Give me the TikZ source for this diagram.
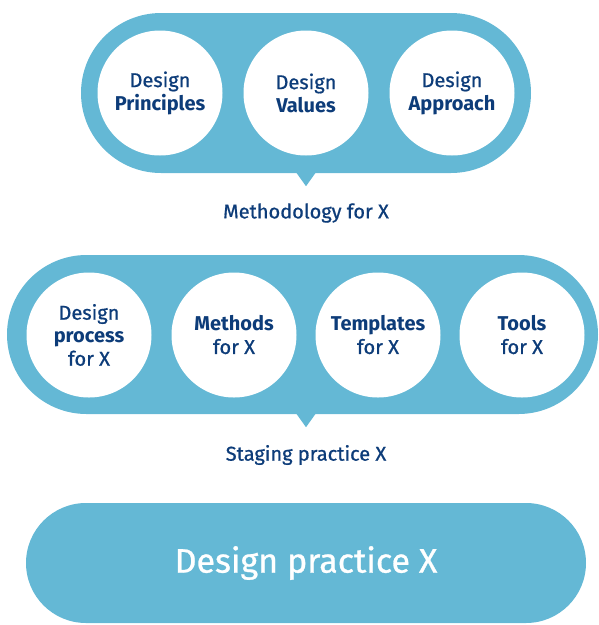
\documentclass[tikz,border=0pt]{standalone}
\usepackage{fontspec}
\setmainfont{Fira Sans}[UprightFeatures={FakeBold=0.8}]
\usepackage{tikz}
\usetikzlibrary{positioning,calc}

\definecolor{pillblue}{HTML}{64B8D5}
\definecolor{navy}{HTML}{0D3C79}

\begin{document}
\begin{tikzpicture}[x=1pt, y=-1pt,
  pill/.style={rectangle, fill=pillblue, inner sep=0pt},
  disc/.style={circle, fill=white, minimum size=125pt, inner sep=0pt,
    align=center, text=navy, font=\fontsize{20}{23}\selectfont},
  caption/.style={text=navy, font=\fontsize{20}{23}\selectfont},
  ]
  \useasboundingbox (0,0) rectangle (599,625);
  % methodology
  \node[pill, minimum width=450pt, minimum height=160pt, rounded corners=80pt] (meth) at (306,93) {};
  \fill[pillblue] ([xshift=-10pt,yshift=1pt]meth.south) -- ([xshift=10pt,yshift=1pt]meth.south) -- ([yshift=-13pt]meth.south) -- cycle;
  \node[disc] (principles) at (160,93) {Design\\\textbf{Principles}};
  \node[disc] (values) at (306,93) {Design\\\textbf{Values}};
  \node[disc] (approach) at (452,93) {Design\\\textbf{Approach}};
  \node[caption] (methlabel) at (306,213) {Methodology for X};
  % staging
  \node[pill, minimum width=591pt, minimum height=159pt, rounded corners=79.5pt] (stage) at (302.5,334.5) {};
  \fill[pillblue] ([xshift=-6.5pt,yshift=1pt]stage.south) -- ([xshift=13.5pt,yshift=1pt]stage.south) -- ([xshift=3.5pt,yshift=-13pt]stage.south) -- cycle;
  \node[disc] (process) at (89,335) {Design\\\textbf{process}\\for X};
  \node[disc] (methods) at (234,335) {\textbf{Methods}\\for X};
  \node[disc] (templates) at (378,335) {\textbf{Templates}\\for X};
  \node[disc] (tools) at (522,335) {\textbf{Tools}\\for X};
  \node[caption] (stagelabel) at (306,455) {Staging practice X};
  % practice
  \node[pill, minimum width=560pt, minimum height=120pt, rounded corners=60pt,
    text=white, font=\fontsize{34}{40}\selectfont] (practice) at (306,563) {Design practice X};
\end{tikzpicture}
\end{document}
